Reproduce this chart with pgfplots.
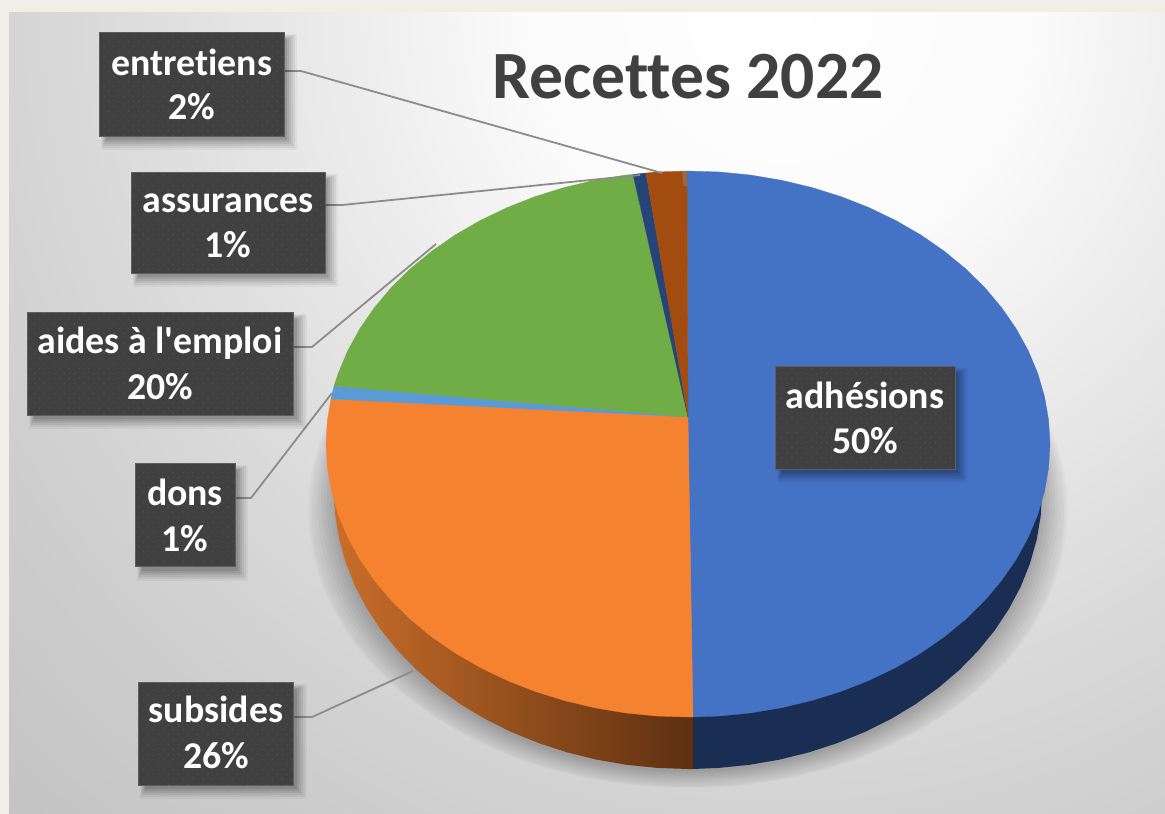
\documentclass[border=0pt]{standalone}
\usepackage{pgfplots}
\pgfplotsset{compat=1.18}
\usepackage{fontspec}
\newfontfamily\carl{Carlito}[Ligatures=NoCommon]
\usetikzlibrary{patterns.meta,fadings}
\definecolor{outerbg}{HTML}{EFEEE9}
\definecolor{cblue}{HTML}{4472C4}
\definecolor{corange}{HTML}{F5822F}
\definecolor{cgreen}{HTML}{70AD47}
\definecolor{clight}{HTML}{5B9BD5}
\definecolor{cdark}{HTML}{264478}
\definecolor{cbrown}{HTML}{A34C0F}
\definecolor{sideblue}{HTML}{1A2D52}
\definecolor{sideA}{HTML}{C96E2A}
\definecolor{sideB}{HTML}{8A4A1A}
\definecolor{sideC}{HTML}{5E3010}
\definecolor{lbox}{HTML}{404040}
\definecolor{ldot}{HTML}{4E4E4E}
\definecolor{lead}{HTML}{8C8C8C}
\definecolor{lborder}{HTML}{5E5E5E}
\definecolor{bgA}{HTML}{FFFFFF}
\definecolor{bgB}{HTML}{FBFBFB}
\definecolor{bgC}{HTML}{EBEBEB}
\definecolor{bgD}{HTML}{E0E0E0}
\definecolor{bgE}{HTML}{D6D6D6}
\definecolor{bgF}{HTML}{CDCDCD}
\definecolor{bgG}{HTML}{C4C4C4}
\definecolor{bgH}{HTML}{C0C0C0}
\pgfdeclareradialshading{bgshade}{\pgfpoint{0bp}{0bp}}{%
 color(0bp)=(bgA); color(5.2bp)=(bgB); color(9.4bp)=(bgC); color(12.5bp)=(bgD);
 color(15.6bp)=(bgE); color(18.75bp)=(bgF); color(22.9bp)=(bgG); color(25bp)=(bgH); color(50bp)=(bgH)}
% x1 y1 x2 y2 xc base1 base2 line1 line2
\newcommand{\lbl}[9]{%
 \fill[black,opacity=.04] (axis cs:#1+2,#2+2) rectangle (axis cs:#3+13,#4+14);
 \fill[black,opacity=.05] (axis cs:#1+3,#2+3) rectangle (axis cs:#3+11,#4+12);
 \fill[black,opacity=.06] (axis cs:#1+4,#2+4) rectangle (axis cs:#3+9,#4+10);
 \fill[black,opacity=.07] (axis cs:#1+5,#2+5) rectangle (axis cs:#3+7,#4+8);
 \fill[black,opacity=.08] (axis cs:#1+6,#2+6) rectangle (axis cs:#3+5,#4+6);
 \fill[black,opacity=.09] (axis cs:#1+7,#2+7) rectangle (axis cs:#3+3,#4+4);
 \fill[lbox] (axis cs:#1,#2) rectangle (axis cs:#3,#4);
 \fill[pattern={Dots[radius=0.9pt,distance=7pt,angle=45]},pattern color=ldot] (axis cs:#1,#2) rectangle (axis cs:#3,#4);
 \draw[lborder,line width=.8pt] (axis cs:#1,#2) rectangle (axis cs:#3,#4);
 \node[anchor=base,text=white,inner sep=0pt,font=\fontsize{37.8}{40}\selectfont\carl\bfseries] at (axis cs:#5,#6) {#8};
 \node[anchor=base,text=white,inner sep=0pt,font=\fontsize{37.8}{40}\selectfont\carl\bfseries] at (axis cs:#5,#7) {#9};
}
\begin{document}
\begin{tikzpicture}
\path[use as bounding box] (0,0) rectangle (1165pt,814pt);
\begin{axis}[
  at={(0,0)},anchor=south west,
  scale only axis,width=1165pt,height=814pt,
  xmin=0,xmax=1165,ymin=0,ymax=814,y dir=reverse,
  hide axis,no markers,
]
% background
\fill[outerbg] (axis cs:0,0) rectangle (axis cs:1165,814);
\begin{scope}
\clip (axis cs:9,12) rectangle (axis cs:1165,814);
\shade[shading=bgshade] (axis cs:780,10) circle (1200pt);
\end{scope}
% shadow of the pie
\fill[black,opacity=.018] (axis cs:688,510) ellipse [x radius=380pt,y radius=278pt];
\fill[black,opacity=.018] (axis cs:688,510) ellipse [x radius=378pt,y radius=277pt];
\fill[black,opacity=.022] (axis cs:688,510) ellipse [x radius=376pt,y radius=276pt];
\fill[black,opacity=.022] (axis cs:688,508) ellipse [x radius=373pt,y radius=276pt];
\fill[black,opacity=.026] (axis cs:688,506) ellipse [x radius=370pt,y radius=276pt];
\fill[black,opacity=.026] (axis cs:688,504) ellipse [x radius=367pt,y radius=276pt];
\fill[black,opacity=.03] (axis cs:688,502) ellipse [x radius=364pt,y radius=276pt];
\fill[black,opacity=.03] (axis cs:688,500) ellipse [x radius=361pt,y radius=276pt];
\fill[black,opacity=.032] (axis cs:688,498) ellipse [x radius=358pt,y radius=276pt];
\fill[black,opacity=.032] (axis cs:688,496) ellipse [x radius=355pt,y radius=276pt];
% side of the pie
\addplot[draw=none,fill=sideblue,forget plot] coordinates {
(693,769)(718.9,767.9)(749.5,764.8)(779.6,759.6)(809.1,752.3)(837.6,743.0)(865,731.9)(891.1,718.9)
(915.5,704.2)(938.3,687.9)(959.2,670.1)(978,650.9)(994.6,630.5)(1008.8,609.1)(1020.7,586.7)
(1029.9,563.7)(1036.6,540.1)(1040.7,516.1)(1042,492)(693,717)};
\addplot[draw=none,left color=sideA,middle color=sideB,right color=sideC,forget plot] coordinates {
(693,769)(688,769)(657.1,767.9)(626.5,764.8)(596.4,759.6)(566.9,752.3)(538.4,743.0)(511,731.9)
(484.9,718.9)(460.5,704.2)(437.7,687.9)(416.8,670.1)(398,650.9)(381.4,630.5)(367.2,609.1)
(355.3,586.7)(346.1,563.7)(339.4,540.1)(335.3,516.1)(334,492)(693,717)};
% top face
\addplot[fill=cblue,draw=cblue,line width=.3pt,forget plot] coordinates {
(688,417)(687,171)(719.6,172.0)(750.8,175.1)(781.7,180.3)(811.8,187.5)(841.0,196.6)(869.0,207.6)
(895.6,220.4)(920.7,234.9)(944.0,251.0)(965.3,268.5)(984.6,287.4)(1001.5,307.5)(1016.1,328.6)
(1028.2,350.6)(1037.7,373.3)(1044.5,396.6)(1048.6,420.2)(1050,444)(1048.6,467.8)(1044.5,491.4)
(1037.7,514.7)(1028.2,537.4)(1016.1,559.4)(1001.5,580.5)(984.6,600.6)(965.3,619.5)(944.0,637.0)
(920.7,653.1)(895.6,667.6)(869.0,680.4)(841.0,691.4)(811.8,700.5)(781.7,707.7)(750.8,712.9)
(719.6,716.0)(693,717)(688,417)};
\addplot[fill=corange,draw=corange,line width=.3pt,forget plot] coordinates {
(688,417)(693,717)(688,717)(656.4,716.0)(625.2,712.9)(594.3,707.7)(564.2,700.5)(535.0,691.4)
(507.0,680.4)(480.4,667.6)(455.3,653.1)(432.0,637.0)(410.7,619.5)(391.4,600.6)(374.5,580.5)
(359.9,559.4)(347.8,537.4)(338.3,514.7)(331.5,491.4)(327.4,467.8)(326,444)(327.4,420.2)
(331,399)(688,417)};
\addplot[fill=clight,draw=clight,line width=.3pt,forget plot] coordinates {
(688,417)(331,399)(334,386)(688,417)};
\addplot[fill=cgreen,draw=cgreen,line width=.3pt,forget plot] coordinates {
(688,417)(334,386)(338.3,373.3)(347.8,350.6)(359.9,328.6)(374.5,307.5)(391.4,287.4)(410.7,268.5)
(432,251)(455.3,234.9)(480.4,220.4)(507,207.6)(535,196.6)(564.2,187.5)(594.3,180.3)(625.2,175.1)
(633,174.4)(688,417)};
\addplot[fill=cdark,draw=cdark,line width=.3pt,forget plot] coordinates {
(688,417)(633,174.4)(646,173)(688,417)};
\addplot[fill=cbrown,draw=cbrown,line width=.3pt,forget plot] coordinates {
(688,417)(646,173)(656.4,172)(687,171)(688,417)};
\addplot[fill=black!45,draw=none,opacity=.45,forget plot] coordinates {
(682,171.2)(687,171)(687.4,186)(683.5,186)};
% leader lines
\addplot[lead,line width=1.8pt,forget plot] coordinates {(284,71)(301,71)(662,173)};
\addplot[lead,line width=1.8pt,forget plot] coordinates {(325,205)(342,205)(640,175)};
\addplot[lead,line width=1.8pt,forget plot] coordinates {(293,347)(312,347)(436,244)};
\addplot[lead,line width=1.8pt,forget plot] coordinates {(235,498)(251,498)(332,393)};
\addplot[lead,line width=1.8pt,forget plot] coordinates {(293,717)(312,717)(413,671)};
% title
\node[anchor=base,text=lbox,inner sep=0pt,font=\fontsize{67.6}{70}\selectfont\carl\bfseries] at (axis cs:688,98) {Recettes 2022};
% labels
\lbl{99.3}{32.3}{284.3}{136}{192}{75}{119}{entretiens}{2\%}
\lbl{131}{172.3}{325}{273.3}{228}{212}{257}{assurances}{1\%}
\lbl{27}{312.3}{293.5}{415.3}{160}{353}{399}{aides à l'emploi}{20\%}
\lbl{135.3}{463.3}{235}{566.7}{185}{505}{551}{dons}{1\%}
\lbl{138}{682.3}{293.5}{785.3}{216}{722}{768}{subsides}{26\%}
\lbl{775}{366}{955}{469.3}{865}{408}{453}{adhésions}{50\%}
\end{axis}
\end{tikzpicture}
\end{document}
